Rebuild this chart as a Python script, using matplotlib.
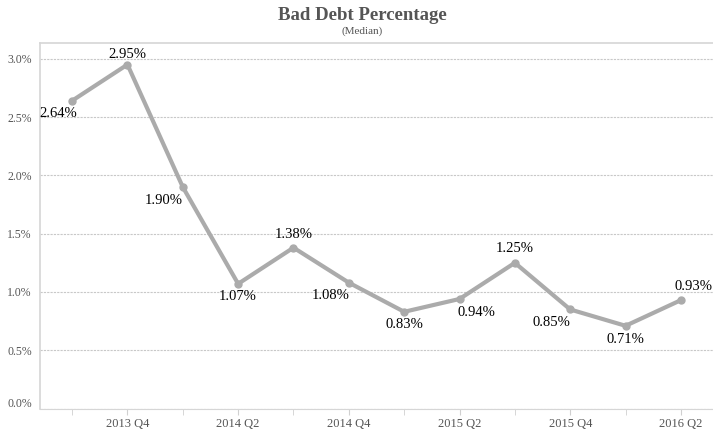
import numpy as np
import matplotlib.pyplot as plt
import matplotlib.transforms as mtrans
from matplotlib.ticker import FuncFormatter

quarters = ["2013 Q3", "2013 Q4", "2014 Q1", "2014 Q2", "2014 Q3", "2014 Q4",
            "2015 Q1", "2015 Q2", "2015 Q3", "2015 Q4", "2016 Q1", "2016 Q2"]
bad_debt = [2.64, 2.95, 1.90, 1.07, 1.38, 1.08, 0.83, 0.94, 1.25, 0.85, 0.71, 0.93]
# label offsets in pixels (dx, dy), dy positive = up
label_offsets = [(-14, -13), (0, 10), (-19, -13), (0, -13), (0, 13), (-18, -13),
                 (0, -13), (17, -14), (0, 14), (-19, -13), (0, -14), (13, 14)]

plt.rcParams['font.family'] = ['Liberation Serif', 'DejaVu Serif']

fig = plt.figure(figsize=(7.13, 4.32), dpi=100)
ax = fig.add_axes([40 / 713, 1 - 408.6 / 432, 673 / 713, (408.6 - 43) / 432])

x = np.arange(len(quarters))
ax.plot(x, bad_debt, color='#ababab', lw=3.0, marker='o', ms=5,
        solid_capstyle='round', solid_joinstyle='round', zorder=3)

for xi, v, (dx, dy) in zip(x, bad_debt, label_offsets):
    ax.annotate("%.2f%%" % v, (xi, v), xytext=(dx, dy),
                textcoords='offset pixels', ha='center', va='center',
                fontsize=10.5, color='black', zorder=4)

ax.set_xlim(-0.58, 11.58)
ax.set_ylim(0, 3.135)

ax.set_yticks(np.arange(0, 3.01, 0.5))
ax.yaxis.set_major_formatter(FuncFormatter(lambda v, p: "%.1f%%" % v))
ax.grid(axis='y', color='#c8c8c8', linestyle=(0, (2, 1)), lw=0.8)
ax.set_axisbelow(True)

ax.set_xticks(x[1::2])
ax.set_xticklabels(quarters[1::2])
ax.set_xticks(x[0::2], minor=True)
ax.tick_params(axis='x', which='both', length=4, color='#d0d0d0',
               labelsize=9, labelcolor='#555555', pad=3)
ax.tick_params(axis='y', length=0, labelsize=8.5, labelcolor='#555555', pad=6)

# lift the 0.0% label a little, as in the original
fig.canvas.draw()
lbl0 = ax.get_yticklabels()[0]
lbl0.set_transform(lbl0.get_transform() +
                   mtrans.ScaledTranslation(0, 6 / 100, fig.dpi_scale_trans))

for s in ['left', 'top']:
    ax.spines[s].set_color('#d6d6d6')
    ax.spines[s].set_linewidth(1.2)
ax.spines['right'].set_visible(False)
ax.spines['bottom'].set_color('#d6d6d6')
ax.spines['bottom'].set_linewidth(0.8)

fig.text(362 / 713, 1 - 15 / 432, "Bad Debt Percentage", ha='center', va='center',
         fontsize=13.5, fontweight='bold', color='#555555')
fig.text(362 / 713, 1 - 31 / 432, "(Median)", ha='center', va='center',
         fontsize=8, color='#555555')

fig.savefig("out.png", dpi=100)
